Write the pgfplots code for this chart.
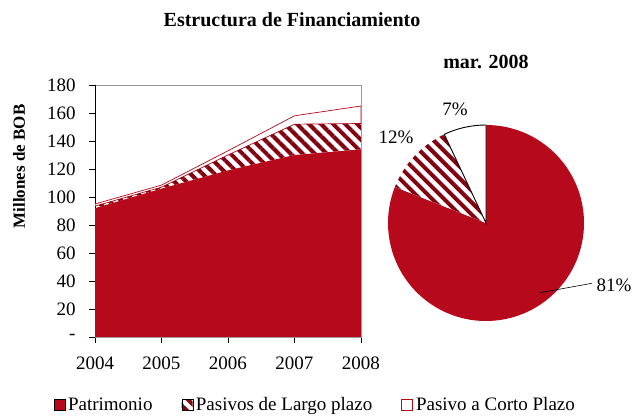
\documentclass[border=0pt]{standalone}
\usepackage{pgfplots}
\pgfplotsset{compat=1.18}
\usetikzlibrary{patterns.meta}
\usepackage{fontspec}
\setmainfont{Liberation Serif}
\definecolor{myred}{RGB}{182,9,27}
\definecolor{stripe}{RGB}{130,0,16}
% pie shares (mar. 2008)
\def\pA{81}\def\pB{12}\def\pC{7}
\begin{document}
\fontsize{19bp}{23bp}\selectfont
\begin{tikzpicture}
\useasboundingbox (0bp,0bp) rectangle (632bp,416bp);
\node[font=\bfseries\fontsize{20bp}{24bp}\selectfont] at (292bp,396bp) {Estructura de Financiamiento};
\node[font=\bfseries\fontsize{20bp}{24bp}\selectfont] at (486bp,354bp) {mar. 2008};
\begin{axis}[
  at={(95bp,79bp)}, anchor=south west,
  width=266bp, height=252bp, scale only axis,
  xmin=2004, xmax=2008, ymin=0, ymax=180,
  stack plots=y,
  xtick={2004,2005,2006,2007,2008}, xticklabels={2004,2005,2006,2007,2008},
  ytick={0,20,40,60,80,100,120,140,160,180},
  yticklabels={-,20,40,60,80,100,120,140,160,180},
  /pgf/number format/assume math mode=true,
  tick align=outside, major tick length=6bp,
  xtick pos=bottom, ytick pos=left,
  tick style={black, line width=0.6bp},
  axis line style={draw=gray!80, line width=0.6bp},
  ticklabel style={font=\fontsize{19bp}{23bp}\selectfont},
  yticklabel style={xshift=-7bp},
  xticklabel style={yshift=-7bp},
  ylabel={Millones de BOB},
  ylabel style={font=\bfseries\fontsize{17bp}{20bp}\selectfont, at={(axis description cs:-0.2857,0.677)}, anchor=center},
  legend image code/.code={\draw[#1] (0bp,-5bp) rectangle (11bp,6bp);},
  legend style={at={(axis description cs:0.83,-0.272)}, anchor=center, draw=none, fill=none,
    legend columns=3, font=\fontsize{19bp}{23bp}\selectfont,
    nodes={inner xsep=3bp, inner ysep=1bp},
    /tikz/every even column/.append style={column sep=26bp}},
  legend cell align=left,
]
\addplot[draw=none, fill=myred] coordinates {(2004,92) (2005,106) (2006,119) (2007,130) (2008,134)} \closedcycle;
\addplot[draw=none, pattern={Lines[angle=-45,distance=8.5bp,line width=4bp]}, pattern color=stripe] coordinates {(2004,1.5) (2005,1) (2006,11) (2007,22) (2008,18.5)} \closedcycle;
\addplot[draw=myred, line width=0.7bp, fill=white] coordinates {(2004,1.5) (2005,1.5) (2006,3) (2007,6) (2008,12.5)} \closedcycle;
\legend{Patrimonio, Pasivos de Largo plazo, Pasivo a Corto Plazo}
\draw[black, line width=0.6bp] (rel axis cs:0,1) -- (rel axis cs:0,0) -- (rel axis cs:1,0);
\end{axis}
\pgfmathsetmacro\aA{90-3.6*\pA}
\pgfmathsetmacro\aB{\aA-3.6*\pB}
\pgfmathsetmacro\aC{\aB-3.6*\pC}
\begin{axis}[at={(486bp,193bp)}, anchor=center, width=196bp, height=196bp, scale only axis, hide axis,
  xmin=-1, xmax=1, ymin=-1, ymax=1, clip=false]
\fill[myred] (axis cs:0,0) -- ++(90:98bp) arc[start angle=90, end angle=\aA, radius=98bp] -- cycle;
\fill[white] (axis cs:0,0) -- ++(\aA:98bp) arc[start angle=\aA, end angle=\aB, radius=98bp] -- cycle;
\fill[pattern={Lines[angle=-45,distance=8.5bp,line width=4bp]}, pattern color=stripe] (axis cs:0,0) -- ++(\aA:98bp) arc[start angle=\aA, end angle=\aB, radius=98bp] -- cycle;
\draw[black, fill=white, line width=0.9bp] (axis cs:0,0) -- ++(\aB:98bp) arc[start angle=\aB, end angle=\aC, radius=98bp] -- cycle;
\end{axis}
\node at (455bp,307bp) {7\%};
\node at (396bp,279bp) {12\%};
\node at (614bp,131bp) {81\%};
\draw[black, line width=0.6bp] (540bp,123.3bp) -- (592bp,132.7bp);
\end{tikzpicture}
\end{document}
